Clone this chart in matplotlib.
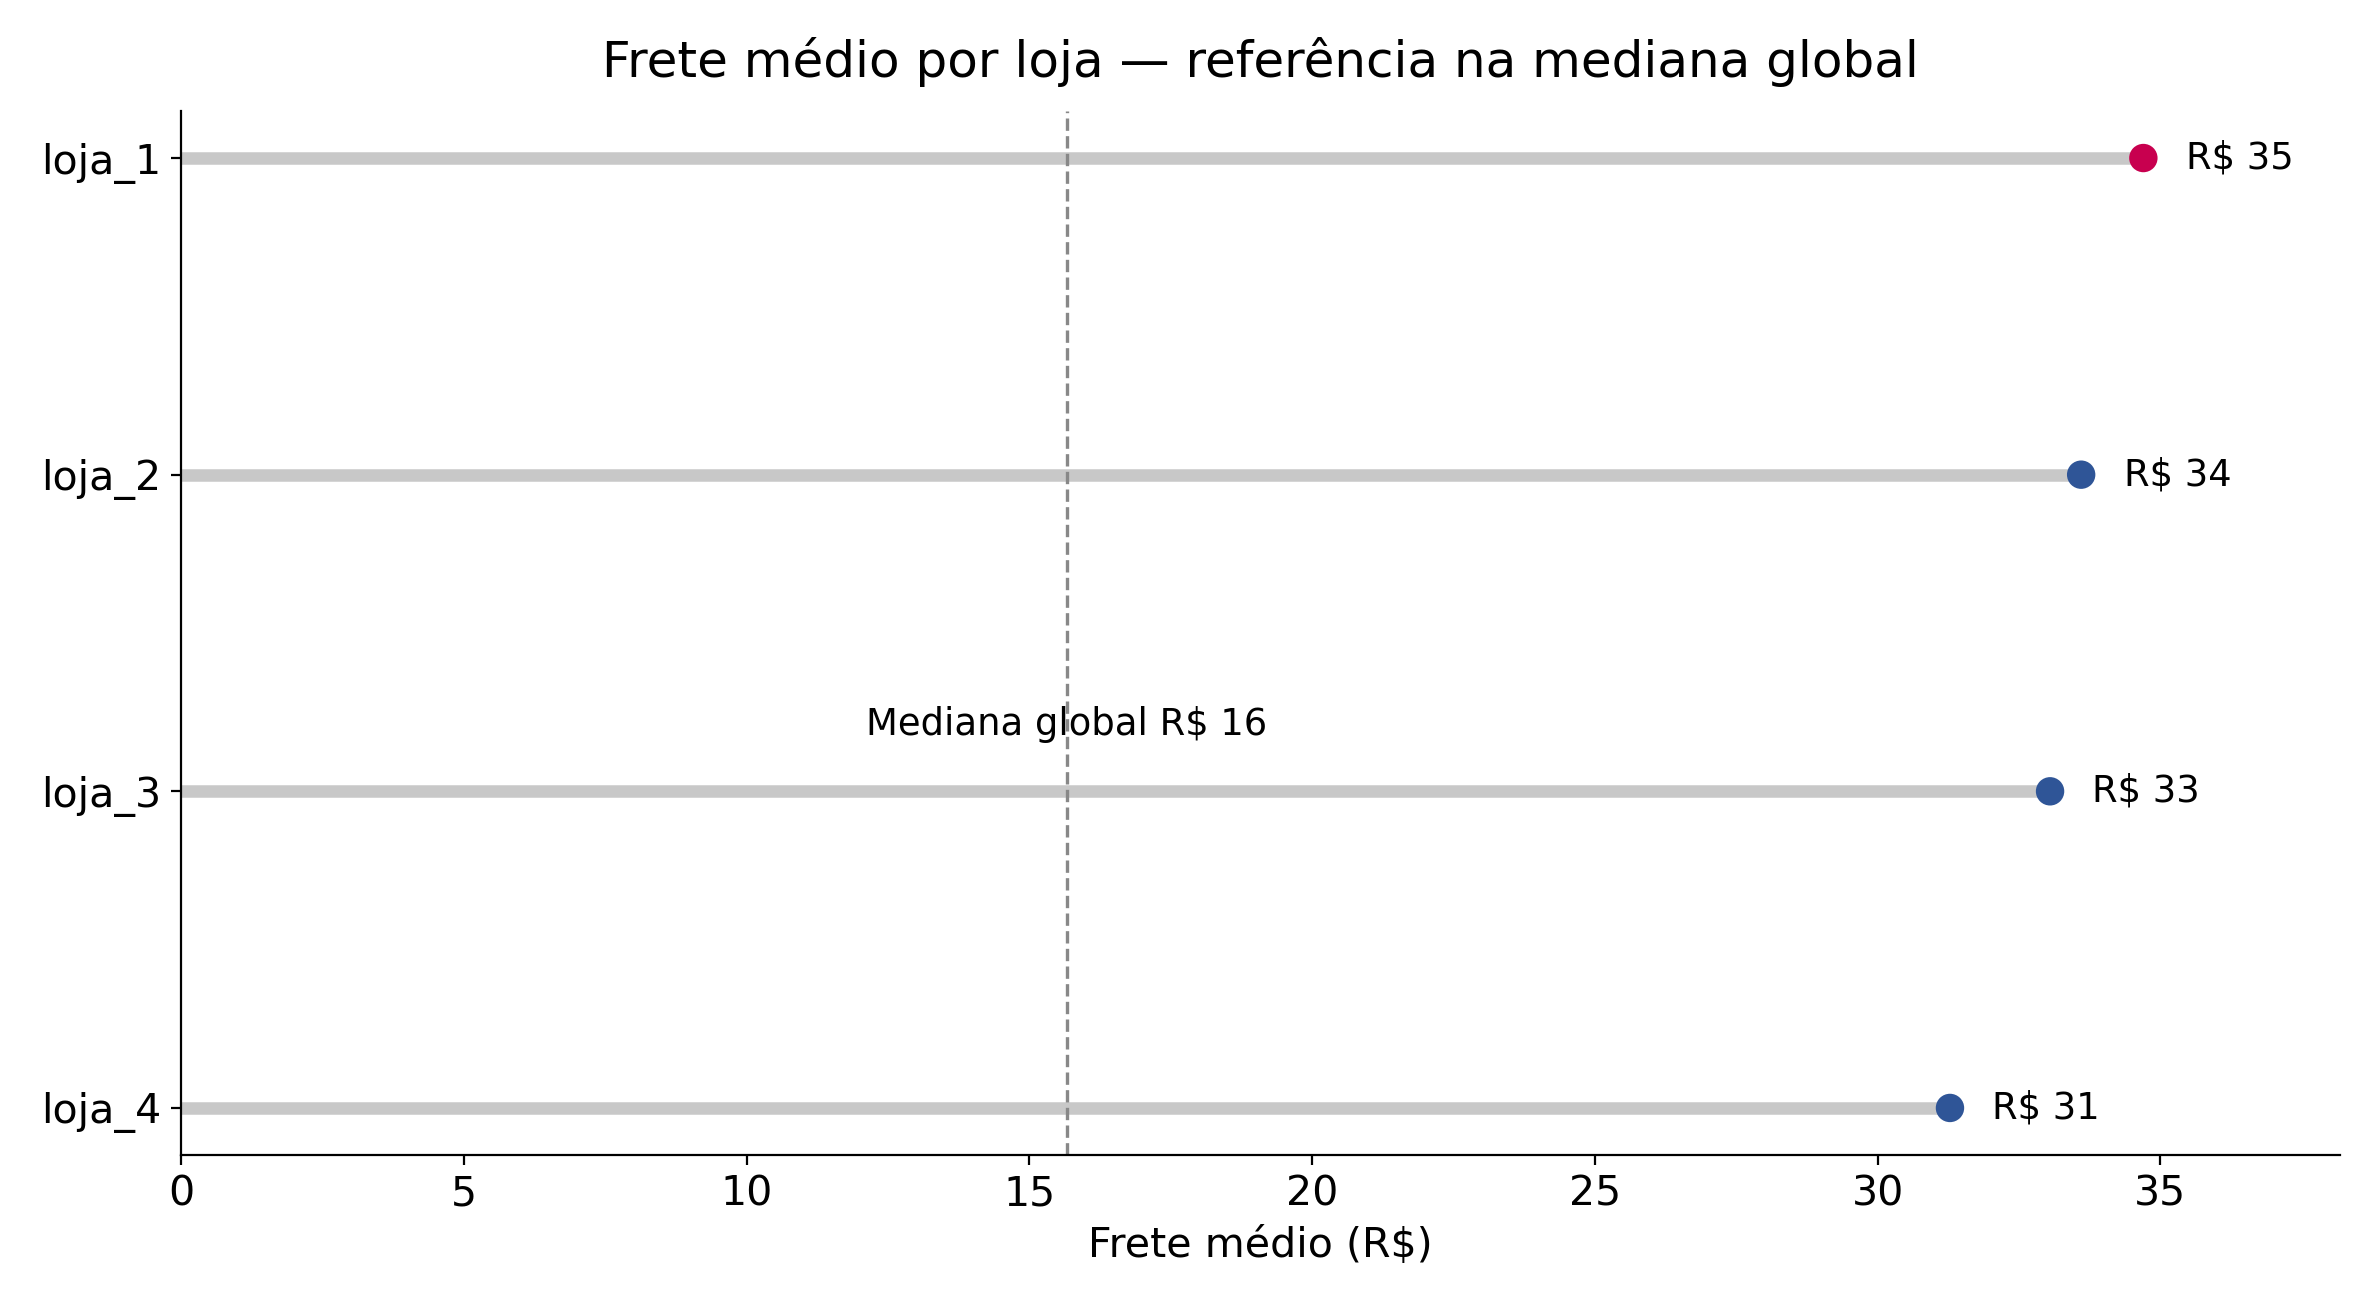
import matplotlib
matplotlib.use("Agg")
import matplotlib.pyplot as plt

lojas = ["loja_1", "loja_2", "loja_3", "loja_4"]
frete = [34.7, 33.6, 33.05, 31.28]
mediana = 15.66

fig = plt.figure(figsize=(11.84, 6.58), dpi=200)
ax = fig.add_axes([0.0765, 0.122, 0.9115, 0.794])
ys = list(range(len(lojas)))
ax.hlines(ys, 0, frete, color="#c8c8c8", lw=4.5, zorder=1)
cols = ["#c8004f" if v == max(frete) else "#2f5597" for v in frete]
ax.scatter(frete, ys, s=85, c=cols, zorder=3)
for y, v in zip(ys, frete):
    ax.text(v + 0.75, y, f"R$ {v:.0f}", va="center", ha="left", fontsize=13.3)
ax.axvline(mediana, color="#888888", ls="--", lw=1.2, zorder=2)
ax.text(mediana, 1.79, f"Mediana global R$ {mediana:.0f}", ha="center", va="center", fontsize=13.3)
ax.set_yticks(ys)
ax.set_yticklabels(lojas, fontsize=14.8)
ax.tick_params(axis="x", labelsize=14.8)
ax.set_ylim(3.15, -0.15)
ax.set_xlim(0, max(frete) * 1.1)
ax.set_xlabel("Frete médio (R$)", fontsize=14.8)
ax.set_title("Frete médio por loja — referência na mediana global", fontsize=18, pad=12)
for s in ["top", "right"]:
    ax.spines[s].set_visible(False)
fig.savefig("out.png", dpi=200)
